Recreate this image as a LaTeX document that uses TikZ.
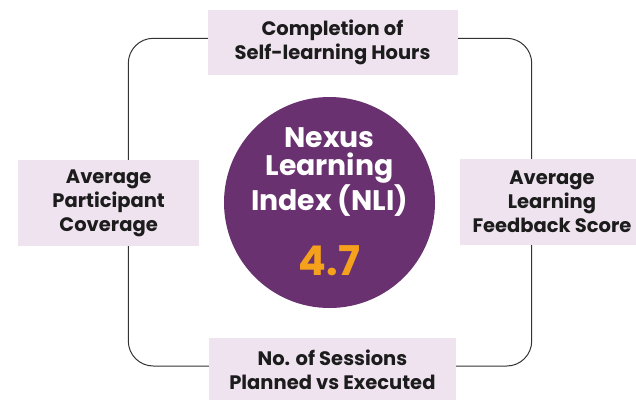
\documentclass[tikz,border=0pt]{standalone}
\usepackage{fontspec}
\setmainfont{Poppins}
\definecolor{nlipurple}{HTML}{693170}
\definecolor{boxlilac}{HTML}{EFE3F0}
\definecolor{scoreorange}{HTML}{F5A11C}
\definecolor{inkgray}{HTML}{1C1C1C}
\begin{document}
\begin{tikzpicture}[x=1pt, y=-1pt, font=\bfseries,
    frame/.style = {draw=black!80, line width=1pt, rounded corners=25pt},
    box/.style = {fill=boxlilac, text=inkgray, align=center, inner sep=0pt,
                  font=\bfseries\fontsize{19.5}{24}\selectfont},
    hub/.style = {circle, fill=nlipurple, minimum size=211pt, inner sep=0pt},
    hubtext/.style = {text=white, align=center, inner sep=0pt,
                      font=\bfseries\fontsize{28.3}{27.5}\selectfont},
    score/.style = {text=scoreorange, inner sep=0pt,
                    font=\bfseries\fontsize{41}{41}\selectfont}]
  \useasboundingbox (0,0) rectangle (636,399);
  \draw[frame] (128.3,38.3) rectangle (531.7,366);
  \node[hub] (nli) at (329.5,202.5) {};
  \node[hubtext] (title) at (329.5,172) {Nexus\\Learning\\Index (NLI)};
  \node[score] (value) at (329.5,261) {4.7};
  \node[box, minimum width=250pt, minimum height=65pt] (hours) at (332.5,42.3) {Completion of\\Self-learning Hours};
  \node[box, minimum width=181pt, minimum height=86pt] (coverage) at (108.6,203) {Average\\Participant\\Coverage};
  \node[box, minimum width=184pt, minimum height=86pt] (feedback) at (552,202) {Average\\Learning\\Feedback Score};
  \node[box, minimum width=247pt, minimum height=64pt] (sessions) at (332.4,370) {No. of Sessions\\Planned vs Executed};
\end{tikzpicture}
\end{document}
